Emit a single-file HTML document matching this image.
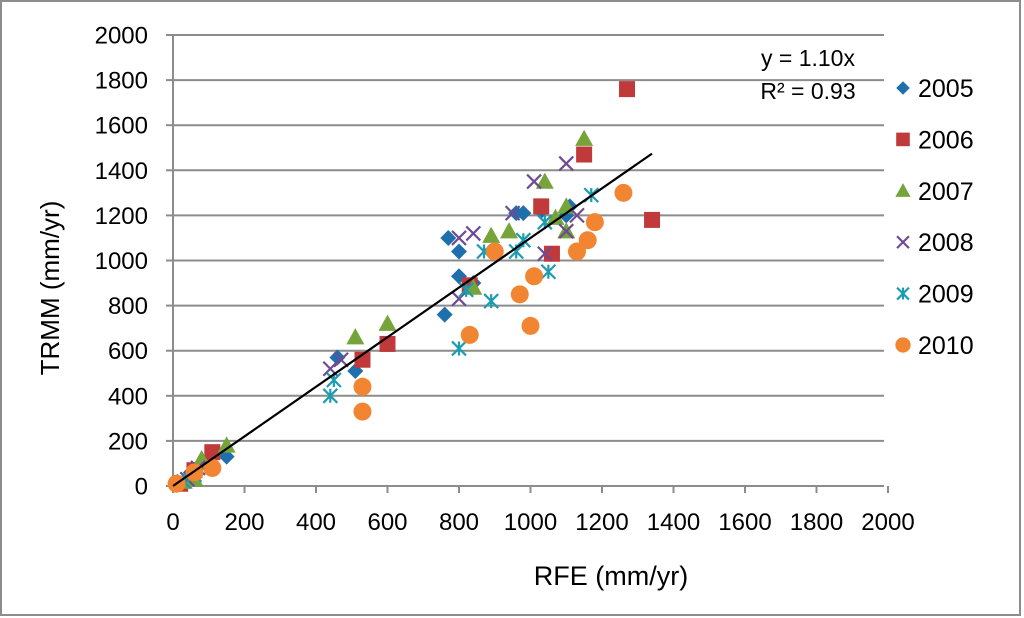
<!DOCTYPE html>
<html><head><meta charset="utf-8"><style>
html,body{margin:0;padding:0;background:#fff;}
svg{display:block;font-family:"Liberation Sans",sans-serif;}
</style></head><body>
<svg id="chart" width="1024" height="618" xmlns="http://www.w3.org/2000/svg">
<rect x="1" y="1" width="1019" height="614" fill="#fff" stroke="#8c8c8c" stroke-width="2"/>
<g id="grid"></g>
<g id="axes"></g>
<g id="marks"></g>
<text x="611" y="585" font-size="27" text-anchor="middle" fill="#000">RFE (mm/yr)</text>
<text transform="translate(59,288) rotate(-90)" font-size="26" text-anchor="middle" fill="#000">TRMM (mm/yr)</text>
<text x="808" y="66" font-size="23" text-anchor="middle">y = 1.10x</text>
<text x="808" y="99" font-size="23" text-anchor="middle">R² = 0.93</text>
<g id="legend"></g>
</svg>
<script>
const xTicks=[0,200,400,600,800,1000,1200,1400,1600,1800,2000];
const yTicks=[0,200,400,600,800,1000,1200,1400,1600,1800,2000];
const seriesNames=["2005","2006","2007","2008","2009","2010"];
const s2005=[[20,10],[50,40],[50,60],[80,100],[150,130],[460,570],[510,510],[760,760],[770,1100],[800,1040],[800,930],[840,900],[960,1210],[980,1210],[1030,1220],[1100,1200],[1110,1240]];
const s2006=[[20,10],[60,70],[110,150],[530,560],[600,630],[830,890],[1030,1240],[1060,1030],[1150,1470],[1270,1760],[1340,1180]];
const s2007=[[30,20],[60,30],[80,120],[150,180],[510,660],[600,720],[840,880],[890,1110],[940,1130],[1040,1350],[1070,1190],[1100,1130],[1100,1240],[1150,1540]];
const s2008=[[40,30],[70,80],[440,520],[470,560],[800,830],[800,1100],[840,1120],[950,1210],[1010,1350],[1100,1430],[1040,1030],[1100,1130],[1130,1200]];
const s2009=[[30,20],[60,50],[440,400],[450,470],[800,610],[820,870],[870,1040],[890,820],[960,1040],[980,1090],[1040,1170],[1050,950],[1170,1290]];
const s2010=[[10,10],[60,60],[110,80],[530,440],[530,330],[830,670],[900,1040],[970,850],[1000,710],[1010,930],[1130,1040],[1160,1090],[1180,1170],[1260,1300]];
const trendSlope=[1.10];
const trendRange=[0,1340];

const NS="http://www.w3.org/2000/svg";
const X0=173,X1=888,Y0=486,Y1=35;
const sx=v=>X0+(v/2000)*(X1-X0);
const sy=v=>Y0-(v/2000)*(Y0-Y1);
function mk(tag,attrs,parent){const e=document.createElementNS(NS,tag);for(const k in attrs)e.setAttribute(k,attrs[k]);parent.appendChild(e);return e;}
const grid=document.getElementById('grid'),axes=document.getElementById('axes'),marks=document.getElementById('marks'),legend=document.getElementById('legend');
yTicks.forEach(t=>{
  if(t>0){const l=mk('line',{x1:X0,x2:X1-4,y1:sy(t),y2:sy(t),stroke:'#8c8c8c','stroke-width':2},grid);
  
  }
  const tx=mk('text',{x:X0-25,y:sy(t)+8.5,'font-size':24,'text-anchor':'end'},axes);tx.textContent=t;
  
  
  mk('line',{x1:X0-7,x2:X0,y1:sy(t),y2:sy(t),stroke:'#8c8c8c','stroke-width':2},axes);
});
xTicks.forEach(t=>{
  const tx=mk('text',{x:sx(t),y:Y0+44,'font-size':24,'text-anchor':'middle'},axes);tx.textContent=t;
  
  
  mk('line',{x1:sx(t),x2:sx(t),y1:Y0,y2:Y0+7,stroke:'#8c8c8c','stroke-width':2},axes);
});
const ya=mk('line',{x1:X0,x2:X0,y1:Y1,y2:Y0,stroke:'#8c8c8c','stroke-width':2},axes);


const xa=mk('line',{x1:X0,x2:X1-4,y1:Y0,y2:Y0,stroke:'#8c8c8c','stroke-width':2},axes);



const colors=['#1f6fad','#c0393b','#76a33a','#6f4b94','#1c9cb0','#f28532'];
function marker(i,x,y,parent,scale){
  const s=scale||1;let e;
  if(i===0){const r=8*s;e=mk('polygon',{points:`${x},${y-r} ${x+r},${y} ${x},${y+r} ${x-r},${y}`,fill:colors[0]},parent);}
  else if(i===1){const r=8*s;e=mk('rect',{x:x-r,y:y-r,width:2*r,height:2*r,fill:colors[1]},parent);}
  else if(i===2){const r=9*s;e=mk('polygon',{points:`${x},${y-r} ${x+r},${y+r*0.8} ${x-r},${y+r*0.8}`,fill:colors[2]},parent);}
  else if(i===3){const r=7*s;e=mk('path',{d:`M${x-r},${y-r}L${x+r},${y+r}M${x+r},${y-r}L${x-r},${y+r}`,stroke:colors[3],'stroke-width':2.2,fill:'none'},parent);}
  else if(i===4){const r=7*s;e=mk('path',{d:`M${x-r},${y-r}L${x+r},${y+r}M${x+r},${y-r}L${x-r},${y+r}M${x},${y-r}L${x},${y+r}`,stroke:colors[4],'stroke-width':2.2,fill:'none'},parent);}
  else {e=mk('circle',{cx:x,cy:y,r:9*s,fill:colors[5]},parent);}
  return e;
}
const allSeries=[s2005,s2006,s2007,s2008,s2009,s2010];
allSeries.forEach((ser,i)=>{
  const g=mk('g',{},marks);
  
  
  ser.forEach(p=>{
    const m=marker(i,sx(p[0]),sy(p[1]),g);
    
    
  });
  const ly=88+i*51.4;
  const lm=marker(i,903,ly,legend,0.85);
  
  
  const lt=mk('text',{x:918,y:ly+9,'font-size':25},legend);lt.textContent=seriesNames[i];
  
  
});
const tl=mk('line',{x1:sx(trendRange[0]),y1:sy(trendRange[0]*trendSlope[0]),x2:sx(trendRange[1]),y2:sy(trendRange[1]*trendSlope[0]),stroke:'#000','stroke-width':2.2},marks);


</script>
</body></html>
